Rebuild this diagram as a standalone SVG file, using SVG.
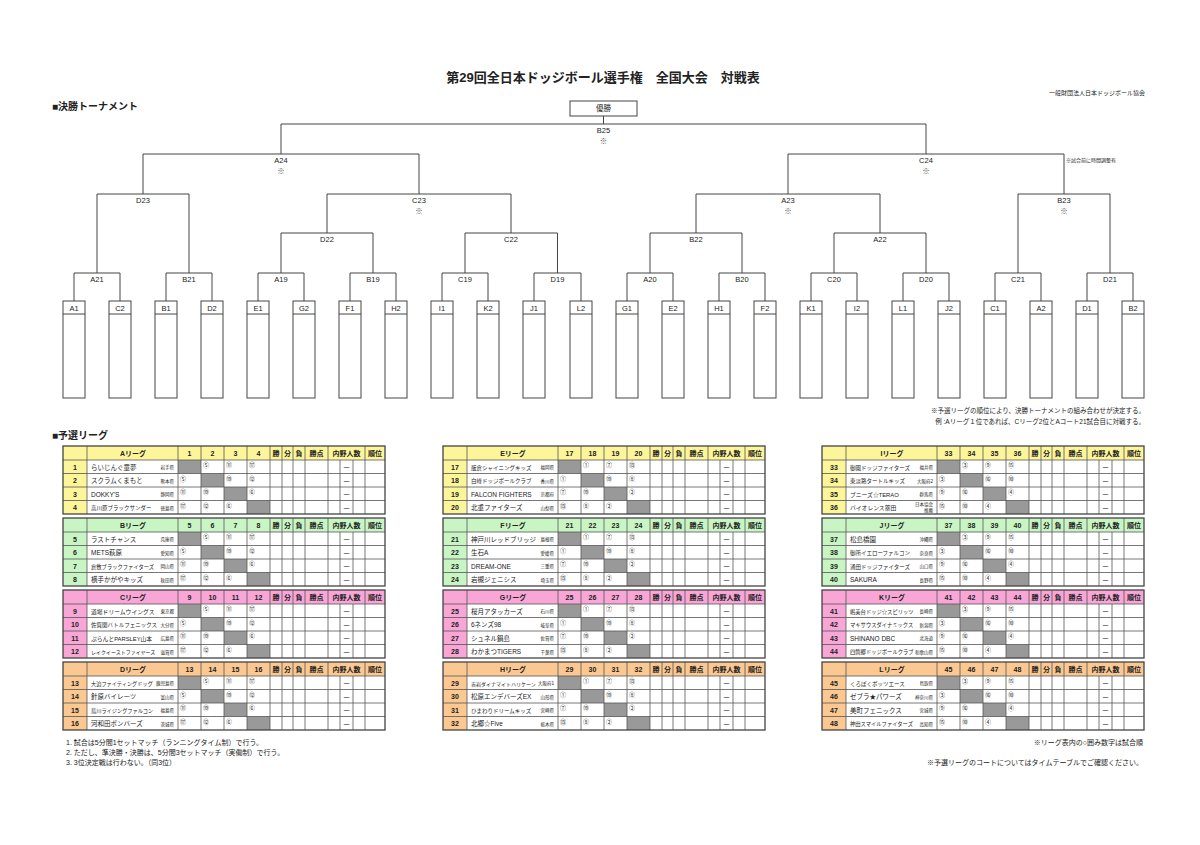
<svg xmlns="http://www.w3.org/2000/svg" xmlns:xlink="http://www.w3.org/1999/xlink" width="1200" height="845" viewBox="0 0 1200 845">
<style>
text{font-family:"Liberation Sans","Noto Sans CJK JP",sans-serif;fill:#222}
.ln{fill:none;stroke:#444;stroke-width:1}
.lb{font-size:7.5px;text-anchor:middle}
.kome{font-family:"Noto Sans CJK JP","DejaVu Sans",sans-serif;fill:#555}
.hd{font-size:7px;font-weight:bold;text-anchor:middle}
.nm{font-size:6.5px}
.pf{font-size:4.5px;text-anchor:end}
.ci{font-size:6px;fill:#555}
.sm{font-size:7px}
</style>
<defs>
<g id="leaf"><rect x="0" y="0" width="22" height="97" fill="#fff" stroke="#444" stroke-width="1"/><line x1="0" y1="13" x2="22" y2="13" stroke="#444"/></g>
<g id="tbl">
<rect x="0" y="0" width="322" height="68" fill="#fff"/>
<rect x="0" y="0" width="322" height="14" fill="currentColor"/>
<rect x="0" y="14" width="24" height="54" fill="currentColor"/>
<g fill="#999"><rect x="115" y="14" width="23" height="13.5"/><rect x="138" y="27.5" width="23" height="13.5"/><rect x="161" y="41" width="23" height="13.5"/><rect x="184" y="54.5" width="23" height="13.5"/></g>
<g stroke="#555" stroke-width="0.8">
<line x1="0" y1="14" x2="322" y2="14"/><line x1="0" y1="27.5" x2="322" y2="27.5"/><line x1="0" y1="41" x2="322" y2="41"/><line x1="0" y1="54.5" x2="322" y2="54.5"/>
<line x1="24" y1="0" x2="24" y2="68"/><line x1="115" y1="0" x2="115" y2="68"/><line x1="138" y1="0" x2="138" y2="68"/><line x1="161" y1="0" x2="161" y2="68"/><line x1="184" y1="0" x2="184" y2="68"/><line x1="207" y1="0" x2="207" y2="68"/><line x1="219" y1="0" x2="219" y2="68"/><line x1="230" y1="0" x2="230" y2="68"/><line x1="242" y1="0" x2="242" y2="68"/><line x1="265" y1="0" x2="265" y2="68"/><line x1="277" y1="14" x2="277" y2="68"/><line x1="290" y1="14" x2="290" y2="68"/><line x1="302" y1="0" x2="302" y2="68"/>
</g>
<rect x="0" y="0" width="322" height="68" fill="none" stroke="#444" stroke-width="1.3"/>
<g class="hd"><text x="213" y="10">勝</text><text x="224.5" y="10">分</text><text x="236" y="10">負</text><text x="253.5" y="10">勝点</text><text x="283.5" y="10">内野人数</text><text x="312" y="10">順位</text></g>
<g class="lb" font-size="6"><text x="283.5" y="24">－</text><text x="283.5" y="37.5">－</text><text x="283.5" y="51">－</text><text x="283.5" y="64.5">－</text></g>
</g>
<g id="cA" class="ci"><text x="140" y="21">⑤</text><text x="163" y="21">⑪</text><text x="186" y="21">⑰</text><text x="117" y="34.5">⑤</text><text x="163" y="34.5">⑲</text><text x="186" y="34.5">⑫</text><text x="117" y="48">⑪</text><text x="140" y="48">⑲</text><text x="186" y="48">⑥</text><text x="117" y="61.5">⑰</text><text x="140" y="61.5">⑫</text><text x="163" y="61.5">⑥</text></g>
<g id="cE" class="ci"><text x="140" y="21">①</text><text x="163" y="21">⑦</text><text x="186" y="21">⑬</text><text x="117" y="34.5">①</text><text x="163" y="34.5">⑲</text><text x="186" y="34.5">⑧</text><text x="117" y="48">⑦</text><text x="140" y="48">⑲</text><text x="186" y="48">②</text><text x="117" y="61.5">⑬</text><text x="140" y="61.5">⑧</text><text x="163" y="61.5">②</text></g>
<g id="cI" class="ci"><text x="140" y="21">③</text><text x="163" y="21">⑨</text><text x="186" y="21">⑮</text><text x="117" y="34.5">③</text><text x="163" y="34.5">⑯</text><text x="186" y="34.5">⑩</text><text x="117" y="48">⑨</text><text x="140" y="48">⑯</text><text x="186" y="48">④</text><text x="117" y="61.5">⑮</text><text x="140" y="61.5">⑩</text><text x="163" y="61.5">④</text></g>
</defs>
<rect width="1200" height="845" fill="#fff"/>
<text x="603" y="82" font-size="13" font-weight="bold" text-anchor="middle" xml:space="preserve">第29回全日本ドッジボール選手権　全国大会　対戦表</text>
<text x="1145" y="95" font-size="6" text-anchor="end">一般財団法人日本ドッジボール協会</text>
<text x="52" y="110" font-size="10" font-weight="bold">■決勝トーナメント</text>
<g id="final"><rect x="570" y="101" width="67" height="15" fill="#fff" stroke="#444"/><text class="lb" x="603.5" y="111">優勝</text></g>
<g id="connectors" class="ln">
<path d="M603.5 116V124M281 154V124H926V154M143 194V154H419V194M788 194V154H1064V194M97 273V194H189V273M327 233V194H511V233M696 233V194H880V233M1018 273V194H1110V273M281 273V233H373V273M465 273V233H557.5V273M650 273V233H742V273M834 273V233H926V273"/>
<path d="M74 301V273H120V301M166 301V273H212V301M258 301V273H304V301M350 301V273H396V301M442 301V273H488V301M534 301V273H581V301M627 301V273H673V301M719 301V273H765V301M811 301V273H857V301M903 301V273H949V301M995 301V273H1041V301M1087 301V273H1133V301"/>
</g>
<g id="match-labels" class="lb" font-size="7">
<text x="603.5" y="133">B25</text><text class="kome" x="603.5" y="144">※︎</text>
<text x="281" y="163">A24</text><text class="kome" x="281" y="174">※︎</text>
<text x="926" y="163">C24</text><text class="kome" x="926" y="174">※︎</text>
<text x="143" y="203">D23</text>
<text x="419" y="203">C23</text><text class="kome" x="419" y="214">※︎</text>
<text x="788" y="203">A23</text><text class="kome" x="788" y="214">※︎</text>
<text x="1064" y="203">B23</text><text class="kome" x="1064" y="214">※︎</text>
<text x="327" y="242">D22</text><text x="511" y="242">C22</text><text x="696" y="242">B22</text><text x="880" y="242">A22</text>
<text x="97" y="282">A21</text><text x="189" y="282">B21</text><text x="281" y="282">A19</text><text x="373" y="282">B19</text><text x="465" y="282">C19</text><text x="557.5" y="282">D19</text><text x="650" y="282">A20</text><text x="742" y="282">B20</text><text x="834" y="282">C20</text><text x="926" y="282">D20</text><text x="1018" y="282">C21</text><text x="1110" y="282">D21</text>
</g>
<text x="1066" y="162" font-size="5">※試合前に時間調整有</text>
<g id="leaves">
<use href="#leaf" x="63" y="301"/><use href="#leaf" x="109" y="301"/><use href="#leaf" x="155" y="301"/><use href="#leaf" x="201" y="301"/><use href="#leaf" x="247" y="301"/><use href="#leaf" x="293" y="301"/><use href="#leaf" x="339" y="301"/><use href="#leaf" x="385" y="301"/><use href="#leaf" x="431" y="301"/><use href="#leaf" x="477" y="301"/><use href="#leaf" x="523" y="301"/><use href="#leaf" x="570" y="301"/><use href="#leaf" x="616" y="301"/><use href="#leaf" x="662" y="301"/><use href="#leaf" x="708" y="301"/><use href="#leaf" x="754" y="301"/><use href="#leaf" x="800" y="301"/><use href="#leaf" x="846" y="301"/><use href="#leaf" x="892" y="301"/><use href="#leaf" x="938" y="301"/><use href="#leaf" x="984" y="301"/><use href="#leaf" x="1030" y="301"/><use href="#leaf" x="1076" y="301"/><use href="#leaf" x="1122" y="301"/>
<g class="lb" font-size="7"><text x="74" y="311">A1</text><text x="120" y="311">C2</text><text x="166" y="311">B1</text><text x="212" y="311">D2</text><text x="258" y="311">E1</text><text x="304" y="311">G2</text><text x="350" y="311">F1</text><text x="396" y="311">H2</text><text x="442" y="311">I1</text><text x="488" y="311">K2</text><text x="534" y="311">J1</text><text x="581" y="311">L2</text><text x="627" y="311">G1</text><text x="673" y="311">E2</text><text x="719" y="311">H1</text><text x="765" y="311">F2</text><text x="811" y="311">K1</text><text x="857" y="311">I2</text><text x="903" y="311">L1</text><text x="949" y="311">J2</text><text x="995" y="311">C1</text><text x="1041" y="311">A2</text><text x="1087" y="311">D1</text><text x="1133" y="311">B2</text></g>
</g>
<text x="1145" y="413" font-size="6.5" text-anchor="end">※予選リーグの順位により、決勝トーナメントの組み合わせが決定する。</text>
<text x="1145" y="424" font-size="6.5" text-anchor="end">例 :Aリーグ１位であれば、Cリーグ2位とAコート21試合目に対戦する。</text>
<text x="52" y="439" font-size="10" font-weight="bold">■予選リーグ</text>

<g id="leagueA" transform="translate(63,446)"><use href="#tbl" color="#fdf59a"/><use href="#cA"/>
<g class="hd"><text x="70" y="10">Aリーグ</text><text x="126.5" y="10">1</text><text x="149.5" y="10">2</text><text x="172.5" y="10">3</text><text x="195.5" y="10">4</text><text x="12" y="23.5">1</text><text x="12" y="37">2</text><text x="12" y="50.5">3</text><text x="12" y="64">4</text></g>
<g class="nm"><text x="28" y="23.5">らいじんぐ童夢</text><text x="28" y="37">スクラムくまもと</text><text x="28" y="50.5">DOKKY'S</text><text x="28" y="64" font-size="5.5">高川原ブラックサンダー</text></g>
<g class="pf"><text x="111" y="23">岩手県</text><text x="111" y="36.5">熊本県</text><text x="111" y="50">静岡県</text><text x="111" y="63.5">徳島県</text></g></g>
<g id="leagueB" transform="translate(63,518)"><use href="#tbl" color="#c9f5c4"/><use href="#cA"/>
<g class="hd"><text x="70" y="10">Bリーグ</text><text x="126.5" y="10">5</text><text x="149.5" y="10">6</text><text x="172.5" y="10">7</text><text x="195.5" y="10">8</text><text x="12" y="23.5">5</text><text x="12" y="37">6</text><text x="12" y="50.5">7</text><text x="12" y="64">8</text></g>
<g class="nm"><text x="28" y="23.5">ラストチャンス</text><text x="28" y="37">METS萩原</text><text x="28" y="50.5" font-size="5.3">倉敷ブラックファイターズ</text><text x="28" y="64">横手かがやキッズ</text></g>
<g class="pf"><text x="111" y="23">兵庫県</text><text x="111" y="36.5">愛知県</text><text x="111" y="50">岡山県</text><text x="111" y="63.5">秋田県</text></g></g>
<g id="leagueC" transform="translate(63,590)"><use href="#tbl" color="#f7a6d6"/><use href="#cA"/>
<g class="hd"><text x="70" y="10">Cリーグ</text><text x="126.5" y="10">9</text><text x="149.5" y="10">10</text><text x="172.5" y="10">11</text><text x="195.5" y="10">12</text><text x="12" y="23.5">9</text><text x="12" y="37">10</text><text x="12" y="50.5">11</text><text x="12" y="64">12</text></g>
<g class="nm"><text x="28" y="23.5" font-size="5.8">道場ドリームウイングス</text><text x="28" y="37" font-size="5.5">佐賀関バトルフェニックス</text><text x="28" y="50.5" font-size="5.8">ぷらんとPARSLEY山本</text><text x="28" y="64" font-size="5">レイクイーストファイヤーズ</text></g>
<g class="pf"><text x="111" y="23">東京都</text><text x="111" y="36.5">大分県</text><text x="111" y="50">広島県</text><text x="111" y="63.5">滋賀県</text></g></g>
<g id="leagueD" transform="translate(63,662)"><use href="#tbl" color="#fbc891"/><use href="#cA"/>
<g class="hd"><text x="70" y="10">Dリーグ</text><text x="126.5" y="10">13</text><text x="149.5" y="10">14</text><text x="172.5" y="10">15</text><text x="195.5" y="10">16</text><text x="12" y="23.5">13</text><text x="12" y="37">14</text><text x="12" y="50.5">15</text><text x="12" y="64">16</text></g>
<g class="nm"><text x="28" y="23.5" font-size="5.2">大迫ファイティングドッグ</text><text x="28" y="37">針原バイレーツ</text><text x="28" y="50.5" font-size="5.2">鳥川ライジングファルコン</text><text x="28" y="64">河和田ボンバーズ</text></g>
<g class="pf"><text x="111" y="23">鹿児島県</text><text x="111" y="36.5">富山県</text><text x="111" y="50">福島県</text><text x="111" y="63.5">茨城県</text></g></g>

<g id="leagueE" transform="translate(443,446)"><use href="#tbl" color="#fdf59a"/><use href="#cE"/>
<g class="hd"><text x="70" y="10">Eリーグ</text><text x="126.5" y="10">17</text><text x="149.5" y="10">18</text><text x="172.5" y="10">19</text><text x="195.5" y="10">20</text><text x="12" y="23.5">17</text><text x="12" y="37">18</text><text x="12" y="50.5">19</text><text x="12" y="64">20</text></g>
<g class="nm"><text x="28" y="23.5" font-size="5.5">飯倉シャイニングキッズ</text><text x="28" y="37" font-size="5.5">白峰ドッジボールクラブ</text><text x="28" y="50.5">FALCON FIGHTERS</text><text x="28" y="64">北重ファイターズ</text></g>
<g class="pf"><text x="111" y="23">福岡県</text><text x="111" y="36.5">香川県</text><text x="111" y="50">京都府</text><text x="111" y="63.5">山梨県</text></g></g>
<g id="leagueF" transform="translate(443,518)"><use href="#tbl" color="#c9f5c4"/><use href="#cE"/>
<g class="hd"><text x="70" y="10">Fリーグ</text><text x="126.5" y="10">21</text><text x="149.5" y="10">22</text><text x="172.5" y="10">23</text><text x="195.5" y="10">24</text><text x="12" y="23.5">21</text><text x="12" y="37">22</text><text x="12" y="50.5">23</text><text x="12" y="64">24</text></g>
<g class="nm"><text x="28" y="23.5">神戸川レッドブリッジ</text><text x="28" y="37">生石A</text><text x="28" y="50.5">DREAM-ONE</text><text x="28" y="64">岩槻ジェニシス</text></g>
<g class="pf"><text x="111" y="23">島根県</text><text x="111" y="36.5">愛媛県</text><text x="111" y="50">三重県</text><text x="111" y="63.5">埼玉県</text></g></g>
<g id="leagueG" transform="translate(443,590)"><use href="#tbl" color="#f7a6d6"/><use href="#cE"/>
<g class="hd"><text x="70" y="10">Gリーグ</text><text x="126.5" y="10">25</text><text x="149.5" y="10">26</text><text x="172.5" y="10">27</text><text x="195.5" y="10">28</text><text x="12" y="23.5">25</text><text x="12" y="37">26</text><text x="12" y="50.5">27</text><text x="12" y="64">28</text></g>
<g class="nm"><text x="28" y="23.5">桜月アタッカーズ</text><text x="28" y="37">6ネンズ98</text><text x="28" y="50.5">シュネル鍋島</text><text x="28" y="64">わかまつTIGERS</text></g>
<g class="pf"><text x="111" y="23">石川県</text><text x="111" y="36.5">岐阜県</text><text x="111" y="50">佐賀県</text><text x="111" y="63.5">千葉県</text></g></g>
<g id="leagueH" transform="translate(443,662)"><use href="#tbl" color="#fbc891"/><use href="#cE"/>
<g class="hd"><text x="70" y="10">Hリーグ</text><text x="126.5" y="10">29</text><text x="149.5" y="10">30</text><text x="172.5" y="10">31</text><text x="195.5" y="10">32</text><text x="12" y="23.5">29</text><text x="12" y="37">30</text><text x="12" y="50.5">31</text><text x="12" y="64">32</text></g>
<g class="nm"><text x="28" y="23.5" font-size="5">吉岩ダイナマイトハリケーン</text><text x="28" y="37">松原エンデバーズEX</text><text x="28" y="50.5" font-size="5.5">ひまわりドリームキッズ</text><text x="28" y="64">北郷☆Five</text></g>
<g class="pf"><text x="111" y="23">大阪府1</text><text x="111" y="36.5">山形県</text><text x="111" y="50">宮崎県</text><text x="111" y="63.5">栃木県</text></g></g>

<g id="leagueI" transform="translate(822,446)"><use href="#tbl" color="#fdf59a"/><use href="#cI"/>
<g class="hd"><text x="70" y="10">Iリーグ</text><text x="126.5" y="10">33</text><text x="149.5" y="10">34</text><text x="172.5" y="10">35</text><text x="195.5" y="10">36</text><text x="12" y="23.5">33</text><text x="12" y="37">34</text><text x="12" y="50.5">35</text><text x="12" y="64">36</text></g>
<g class="nm"><text x="28" y="23.5" font-size="5.5">御園ドッジファイターズ</text><text x="28" y="37" font-size="5.5">東淡路タートルキッズ</text><text x="28" y="50.5" font-size="5.8">ブニーズ☆TERAO</text><text x="28" y="64" font-size="5.8">バイオレンス薬田</text></g>
<g class="pf"><text x="111" y="23">福井県</text><text x="111" y="36.5">大阪府2</text><text x="111" y="50">群馬県</text><text x="111" y="60">日本協会</text><text x="111" y="65.5">推薦</text></g></g>
<g id="leagueJ" transform="translate(822,518)"><use href="#tbl" color="#c9f5c4"/><use href="#cI"/>
<g class="hd"><text x="70" y="10">Jリーグ</text><text x="126.5" y="10">37</text><text x="149.5" y="10">38</text><text x="172.5" y="10">39</text><text x="195.5" y="10">40</text><text x="12" y="23.5">37</text><text x="12" y="37">38</text><text x="12" y="50.5">39</text><text x="12" y="64">40</text></g>
<g class="nm"><text x="28" y="23.5">松島橋園</text><text x="28" y="37" font-size="5.5">御所イエローファルコン</text><text x="28" y="50.5" font-size="5.5">通田ドッジファイターズ</text><text x="28" y="64">SAKURA</text></g>
<g class="pf"><text x="111" y="23">沖縄県</text><text x="111" y="36.5">奈良県</text><text x="111" y="50">山口県</text><text x="111" y="63.5">長野県</text></g></g>
<g id="leagueK" transform="translate(822,590)"><use href="#tbl" color="#f7a6d6"/><use href="#cI"/>
<g class="hd"><text x="70" y="10">Kリーグ</text><text x="126.5" y="10">41</text><text x="149.5" y="10">42</text><text x="172.5" y="10">43</text><text x="195.5" y="10">44</text><text x="12" y="23.5">41</text><text x="12" y="37">42</text><text x="12" y="50.5">43</text><text x="12" y="64">44</text></g>
<g class="nm"><text x="28" y="23.5" font-size="5.3">嶋美台ドッジ☆スピリッツ</text><text x="28" y="37" font-size="5.3">マキサウスダイナミックス</text><text x="28" y="50.5">SHINANO DBC</text><text x="28" y="64" font-size="5.3">四箇郷ドッジボールクラブ</text></g>
<g class="pf"><text x="111" y="23">長崎県</text><text x="111" y="36.5">新潟県</text><text x="111" y="50">北海道</text><text x="111" y="63.5">和歌山県</text></g></g>
<g id="leagueL" transform="translate(822,662)"><use href="#tbl" color="#fbc891"/><use href="#cI"/>
<g class="hd"><text x="70" y="10">Lリーグ</text><text x="126.5" y="10">45</text><text x="149.5" y="10">46</text><text x="172.5" y="10">47</text><text x="195.5" y="10">48</text><text x="12" y="23.5">45</text><text x="12" y="37">46</text><text x="12" y="50.5">47</text><text x="12" y="64">48</text></g>
<g class="nm"><text x="28" y="23.5" font-size="5.5">くろぼくボッツエース</text><text x="28" y="37">ゼブラ★パワーズ</text><text x="28" y="50.5">美町フェニックス</text><text x="28" y="64" font-size="5.3">神田スマイルファイターズ</text></g>
<g class="pf"><text x="111" y="23">鳥取県</text><text x="111" y="36.5">神奈川県</text><text x="111" y="50">宮城県</text><text x="111" y="63.5">高知県</text></g></g>

<g class="sm" font-size="6.5">
<text x="66" y="745">1. 試合は5分間1セットマッチ（ランニングタイム制）で行う。</text>
<text x="66" y="755">2. ただし、準決勝・決勝は、5分間3セットマッチ（実働制）で行う。</text>
<text x="66" y="765">3. 3位決定戦は行わない。（同3位）</text>
<text x="1143" y="745" text-anchor="end">※リーグ表内の○囲み数字は試合順</text>
<text x="1143" y="765" text-anchor="end">※予選リーグのコートについてはタイムテーブルでご確認ください。</text>
</g>
</svg>
